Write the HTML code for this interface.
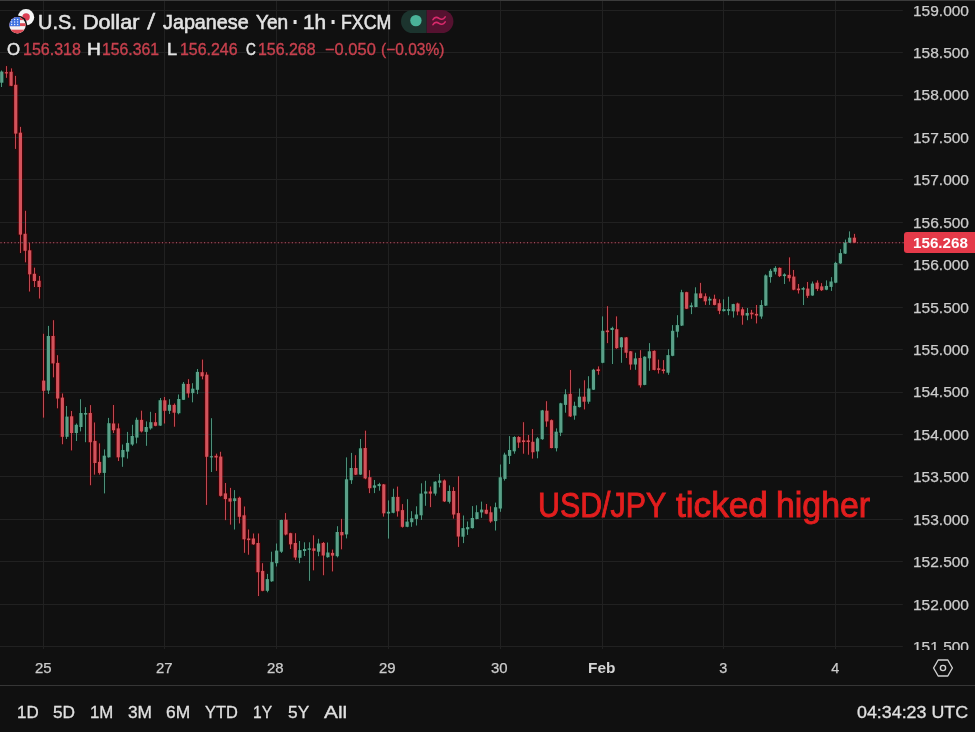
<!DOCTYPE html>
<html lang="en"><head><meta charset="utf-8"><title>USD/JPY chart</title>
<style>
html,body{margin:0;padding:0;background:#101010;}
body{width:975px;height:732px;position:relative;overflow:hidden;font-family:"Liberation Sans",sans-serif;color:#d6d6d6;}
#chart{position:absolute;left:0;top:0;}
.topline{position:absolute;left:0;top:0;width:975px;height:1px;background:#3c3c3c;}
.w{position:absolute;white-space:nowrap;line-height:40px;transform-origin:0 50%;}
#paxis{position:absolute;left:0;top:0;width:975px;height:649.5px;overflow:hidden;}
.tag{position:absolute;left:903.5px;top:231.7px;width:72px;height:21.6px;background:#e43a49;border-radius:3px 0 0 3px;}
.sep{position:absolute;left:0;top:685.3px;width:975px;height:1.2px;background:#363636;}
</style></head><body>
<svg id="chart" width="975" height="732" viewBox="0 0 975 732">
<rect x="0" y="70.0" width="3" height="17.5" fill="#021b12" opacity="0.6"/>
<rect x="-1.23" y="70.8" width="6.0" height="12.7" fill="#021b12"/>
<rect x="5" y="65.6" width="3" height="12.7" fill="#3a0004" opacity="0.6"/>
<rect x="3.43" y="71.4" width="6.0" height="2.8" fill="#3a0004"/>
<rect x="10" y="67.9" width="3" height="18.7" fill="#3a0004" opacity="0.6"/>
<rect x="8.09" y="71.0" width="6.0" height="15.6" fill="#3a0004"/>
<rect x="14" y="75.4" width="3" height="74.0" fill="#3a0004" opacity="0.6"/>
<rect x="12.75" y="84.0" width="6.0" height="50.4" fill="#3a0004"/>
<rect x="19" y="126.4" width="3" height="127.1" fill="#3a0004" opacity="0.6"/>
<rect x="17.41" y="131.9" width="6.0" height="103.5" fill="#3a0004"/>
<rect x="24" y="210.3" width="3" height="52.5" fill="#3a0004" opacity="0.6"/>
<rect x="22.06" y="233.0" width="6.0" height="18.6" fill="#3a0004"/>
<rect x="28" y="242.5" width="3" height="49.5" fill="#3a0004" opacity="0.6"/>
<rect x="26.72" y="249.5" width="6.0" height="25.6" fill="#3a0004"/>
<rect x="33" y="267.2" width="3" height="20.3" fill="#3a0004" opacity="0.6"/>
<rect x="31.38" y="273.0" width="6.0" height="8.8" fill="#3a0004"/>
<rect x="38" y="275.5" width="3" height="23.5" fill="#3a0004" opacity="0.6"/>
<rect x="36.04" y="280.0" width="6.0" height="7.8" fill="#3a0004"/>
<rect x="42" y="333.3" width="3" height="84.8" fill="#3a0004" opacity="0.6"/>
<rect x="40.70" y="379.8" width="6.0" height="11.8" fill="#3a0004"/>
<rect x="47" y="325.4" width="3" height="69.1" fill="#021b12" opacity="0.6"/>
<rect x="45.36" y="335.2" width="6.0" height="56.1" fill="#021b12"/>
<rect x="52" y="319.7" width="3" height="58.1" fill="#3a0004" opacity="0.6"/>
<rect x="50.02" y="335.2" width="6.0" height="29.0" fill="#3a0004"/>
<rect x="56" y="354.7" width="3" height="54.1" fill="#3a0004" opacity="0.6"/>
<rect x="54.68" y="362.1" width="6.0" height="37.2" fill="#3a0004"/>
<rect x="61" y="393.0" width="3" height="51.7" fill="#3a0004" opacity="0.6"/>
<rect x="59.34" y="396.8" width="6.0" height="40.8" fill="#3a0004"/>
<rect x="65" y="405.5" width="3" height="34.0" fill="#021b12" opacity="0.6"/>
<rect x="64.00" y="415.8" width="6.0" height="21.8" fill="#021b12"/>
<rect x="70" y="410.5" width="3" height="40.4" fill="#3a0004" opacity="0.6"/>
<rect x="68.65" y="415.5" width="6.0" height="18.3" fill="#3a0004"/>
<rect x="75" y="423.0" width="3" height="18.5" fill="#021b12" opacity="0.6"/>
<rect x="73.31" y="424.0" width="6.0" height="9.8" fill="#021b12"/>
<rect x="79" y="398.7" width="3" height="33.2" fill="#021b12" opacity="0.6"/>
<rect x="77.97" y="412.2" width="6.0" height="15.6" fill="#021b12"/>
<rect x="84" y="406.7" width="3" height="36.0" fill="#021b12" opacity="0.6"/>
<rect x="82.63" y="412.2" width="6.0" height="3.2" fill="#021b12"/>
<rect x="89" y="404.6" width="3" height="81.1" fill="#3a0004" opacity="0.6"/>
<rect x="87.29" y="412.2" width="6.0" height="30.8" fill="#3a0004"/>
<rect x="93" y="422.0" width="3" height="53.1" fill="#3a0004" opacity="0.6"/>
<rect x="91.95" y="440.1" width="6.0" height="23.7" fill="#3a0004"/>
<rect x="98" y="442.9" width="3" height="32.2" fill="#3a0004" opacity="0.6"/>
<rect x="96.61" y="461.1" width="6.0" height="12.6" fill="#3a0004"/>
<rect x="103" y="448.9" width="3" height="45.0" fill="#021b12" opacity="0.6"/>
<rect x="101.27" y="454.9" width="6.0" height="18.8" fill="#021b12"/>
<rect x="107" y="417.4" width="3" height="40.7" fill="#021b12" opacity="0.6"/>
<rect x="105.93" y="422.4" width="6.0" height="35.7" fill="#021b12"/>
<rect x="112" y="404.5" width="3" height="29.0" fill="#3a0004" opacity="0.6"/>
<rect x="110.58" y="422.7" width="6.0" height="8.3" fill="#3a0004"/>
<rect x="117" y="423.0" width="3" height="38.5" fill="#3a0004" opacity="0.6"/>
<rect x="115.24" y="427.6" width="6.0" height="30.5" fill="#3a0004"/>
<rect x="121" y="444.0" width="3" height="23.3" fill="#021b12" opacity="0.6"/>
<rect x="119.90" y="449.2" width="6.0" height="8.9" fill="#021b12"/>
<rect x="126" y="431.4" width="3" height="27.7" fill="#021b12" opacity="0.6"/>
<rect x="124.56" y="442.1" width="6.0" height="10.3" fill="#021b12"/>
<rect x="131" y="424.3" width="3" height="22.0" fill="#021b12" opacity="0.6"/>
<rect x="129.22" y="435.2" width="6.0" height="10.1" fill="#021b12"/>
<rect x="135" y="417.1" width="3" height="26.8" fill="#021b12" opacity="0.6"/>
<rect x="133.88" y="419.0" width="6.0" height="19.4" fill="#021b12"/>
<rect x="140" y="410.2" width="3" height="22.7" fill="#3a0004" opacity="0.6"/>
<rect x="138.54" y="419.1" width="6.0" height="13.1" fill="#3a0004"/>
<rect x="145" y="420.9" width="3" height="25.4" fill="#021b12" opacity="0.6"/>
<rect x="143.20" y="426.2" width="6.0" height="6.5" fill="#021b12"/>
<rect x="149" y="411.3" width="3" height="18.9" fill="#021b12" opacity="0.6"/>
<rect x="147.86" y="421.4" width="6.0" height="7.8" fill="#021b12"/>
<rect x="154" y="412.5" width="3" height="14.2" fill="#3a0004" opacity="0.6"/>
<rect x="152.52" y="421.4" width="6.0" height="5.2" fill="#3a0004"/>
<rect x="159" y="397.5" width="3" height="28.9" fill="#021b12" opacity="0.6"/>
<rect x="157.18" y="399.4" width="6.0" height="27.0" fill="#021b12"/>
<rect x="163" y="396.5" width="3" height="27.5" fill="#3a0004" opacity="0.6"/>
<rect x="161.83" y="399.5" width="6.0" height="12.1" fill="#3a0004"/>
<rect x="168" y="398.7" width="3" height="15.8" fill="#021b12" opacity="0.6"/>
<rect x="166.49" y="404.0" width="6.0" height="7.6" fill="#021b12"/>
<rect x="173" y="403.0" width="3" height="24.2" fill="#3a0004" opacity="0.6"/>
<rect x="171.15" y="404.1" width="6.0" height="9.4" fill="#3a0004"/>
<rect x="177" y="394.0" width="3" height="20.8" fill="#021b12" opacity="0.6"/>
<rect x="175.81" y="398.2" width="6.0" height="15.8" fill="#021b12"/>
<rect x="182" y="381.5" width="3" height="19.0" fill="#021b12" opacity="0.6"/>
<rect x="180.47" y="383.0" width="6.0" height="17.6" fill="#021b12"/>
<rect x="187" y="378.7" width="3" height="19.4" fill="#3a0004" opacity="0.6"/>
<rect x="185.13" y="383.2" width="6.0" height="11.0" fill="#3a0004"/>
<rect x="191" y="382.7" width="3" height="20.1" fill="#021b12" opacity="0.6"/>
<rect x="189.79" y="387.9" width="6.0" height="6.0" fill="#021b12"/>
<rect x="196" y="368.5" width="3" height="26.1" fill="#021b12" opacity="0.6"/>
<rect x="194.45" y="371.1" width="6.0" height="19.5" fill="#021b12"/>
<rect x="201" y="359.1" width="3" height="20.7" fill="#3a0004" opacity="0.6"/>
<rect x="199.11" y="371.4" width="6.0" height="5.7" fill="#3a0004"/>
<rect x="205" y="371.7" width="3" height="133.7" fill="#3a0004" opacity="0.6"/>
<rect x="203.76" y="373.9" width="6.0" height="83.7" fill="#3a0004"/>
<rect x="210" y="417.7" width="3" height="54.8" fill="#021b12" opacity="0.6"/>
<rect x="208.42" y="455.4" width="6.0" height="2.8" fill="#021b12"/>
<rect x="215" y="453.2" width="3" height="18.2" fill="#3a0004" opacity="0.6"/>
<rect x="213.08" y="455.0" width="6.0" height="3.3" fill="#3a0004"/>
<rect x="219" y="451.3" width="3" height="45.7" fill="#3a0004" opacity="0.6"/>
<rect x="217.74" y="455.8" width="6.0" height="40.8" fill="#3a0004"/>
<rect x="224" y="482.5" width="3" height="38.1" fill="#3a0004" opacity="0.6"/>
<rect x="222.40" y="492.6" width="6.0" height="7.3" fill="#3a0004"/>
<rect x="229" y="487.4" width="3" height="37.7" fill="#3a0004" opacity="0.6"/>
<rect x="227.06" y="497.5" width="6.0" height="4.9" fill="#3a0004"/>
<rect x="233" y="489.6" width="3" height="40.4" fill="#021b12" opacity="0.6"/>
<rect x="231.72" y="497.5" width="6.0" height="4.4" fill="#021b12"/>
<rect x="238" y="496.2" width="3" height="27.7" fill="#3a0004" opacity="0.6"/>
<rect x="236.38" y="497.0" width="6.0" height="20.6" fill="#3a0004"/>
<rect x="243" y="506.0" width="3" height="47.3" fill="#3a0004" opacity="0.6"/>
<rect x="241.04" y="514.5" width="6.0" height="25.6" fill="#3a0004"/>
<rect x="247" y="529.0" width="3" height="26.2" fill="#3a0004" opacity="0.6"/>
<rect x="245.70" y="537.7" width="6.0" height="3.2" fill="#3a0004"/>
<rect x="252" y="533.0" width="3" height="12.3" fill="#3a0004" opacity="0.6"/>
<rect x="250.36" y="537.7" width="6.0" height="7.4" fill="#3a0004"/>
<rect x="257" y="533.0" width="3" height="63.5" fill="#3a0004" opacity="0.6"/>
<rect x="255.01" y="542.2" width="6.0" height="30.8" fill="#3a0004"/>
<rect x="261" y="562.7" width="3" height="29.0" fill="#3a0004" opacity="0.6"/>
<rect x="259.67" y="570.1" width="6.0" height="21.5" fill="#3a0004"/>
<rect x="266" y="573.4" width="3" height="19.4" fill="#021b12" opacity="0.6"/>
<rect x="264.33" y="578.3" width="6.0" height="13.3" fill="#021b12"/>
<rect x="270" y="551.2" width="3" height="31.1" fill="#021b12" opacity="0.6"/>
<rect x="268.99" y="561.3" width="6.0" height="20.8" fill="#021b12"/>
<rect x="275" y="543.0" width="3" height="24.0" fill="#021b12" opacity="0.6"/>
<rect x="273.65" y="549.8" width="6.0" height="14.2" fill="#021b12"/>
<rect x="280" y="519.2" width="3" height="34.2" fill="#021b12" opacity="0.6"/>
<rect x="278.31" y="519.2" width="6.0" height="33.3" fill="#021b12"/>
<rect x="284" y="512.6" width="3" height="23.2" fill="#3a0004" opacity="0.6"/>
<rect x="282.97" y="518.9" width="6.0" height="16.4" fill="#3a0004"/>
<rect x="289" y="532.3" width="3" height="17.2" fill="#3a0004" opacity="0.6"/>
<rect x="287.63" y="532.4" width="6.0" height="12.7" fill="#3a0004"/>
<rect x="294" y="532.7" width="3" height="27.7" fill="#3a0004" opacity="0.6"/>
<rect x="292.29" y="542.2" width="6.0" height="16.1" fill="#3a0004"/>
<rect x="298" y="540.5" width="3" height="23.2" fill="#021b12" opacity="0.6"/>
<rect x="296.94" y="549.3" width="6.0" height="9.3" fill="#021b12"/>
<rect x="303" y="541.8" width="3" height="14.7" fill="#021b12" opacity="0.6"/>
<rect x="301.60" y="548.2" width="6.0" height="3.6" fill="#021b12"/>
<rect x="308" y="541.8" width="3" height="39.5" fill="#021b12" opacity="0.6"/>
<rect x="306.26" y="547.6" width="6.0" height="3.0" fill="#021b12"/>
<rect x="312" y="534.8" width="3" height="36.0" fill="#3a0004" opacity="0.6"/>
<rect x="310.92" y="547.6" width="6.0" height="4.0" fill="#3a0004"/>
<rect x="317" y="538.3" width="3" height="18.4" fill="#021b12" opacity="0.6"/>
<rect x="315.58" y="542.7" width="6.0" height="9.8" fill="#021b12"/>
<rect x="322" y="541.5" width="3" height="34.2" fill="#3a0004" opacity="0.6"/>
<rect x="320.24" y="542.2" width="6.0" height="14.1" fill="#3a0004"/>
<rect x="326" y="542.0" width="3" height="16.2" fill="#021b12" opacity="0.6"/>
<rect x="324.90" y="551.7" width="6.0" height="6.3" fill="#021b12"/>
<rect x="331" y="549.1" width="3" height="22.8" fill="#3a0004" opacity="0.6"/>
<rect x="329.56" y="552.1" width="6.0" height="4.3" fill="#3a0004"/>
<rect x="336" y="525.7" width="3" height="32.2" fill="#021b12" opacity="0.6"/>
<rect x="334.22" y="531.2" width="6.0" height="25.8" fill="#021b12"/>
<rect x="340" y="518.4" width="3" height="31.4" fill="#3a0004" opacity="0.6"/>
<rect x="338.88" y="531.2" width="6.0" height="4.9" fill="#3a0004"/>
<rect x="345" y="456.9" width="3" height="82.0" fill="#021b12" opacity="0.6"/>
<rect x="343.53" y="478.5" width="6.0" height="56.7" fill="#021b12"/>
<rect x="350" y="452.4" width="3" height="32.0" fill="#021b12" opacity="0.6"/>
<rect x="348.19" y="467.2" width="6.0" height="13.8" fill="#021b12"/>
<rect x="354" y="454.7" width="3" height="20.8" fill="#3a0004" opacity="0.6"/>
<rect x="352.85" y="467.2" width="6.0" height="8.3" fill="#3a0004"/>
<rect x="359" y="438.5" width="3" height="37.0" fill="#021b12" opacity="0.6"/>
<rect x="357.51" y="447.5" width="6.0" height="27.9" fill="#021b12"/>
<rect x="364" y="430.2" width="3" height="49.5" fill="#3a0004" opacity="0.6"/>
<rect x="362.17" y="447.2" width="6.0" height="32.0" fill="#3a0004"/>
<rect x="368" y="469.7" width="3" height="23.9" fill="#3a0004" opacity="0.6"/>
<rect x="366.83" y="476.4" width="6.0" height="12.6" fill="#3a0004"/>
<rect x="373" y="479.5" width="3" height="14.1" fill="#021b12" opacity="0.6"/>
<rect x="371.49" y="484.6" width="6.0" height="3.9" fill="#021b12"/>
<rect x="378" y="482.3" width="3" height="8.9" fill="#021b12" opacity="0.6"/>
<rect x="376.15" y="483.3" width="6.0" height="3.6" fill="#021b12"/>
<rect x="382" y="483.5" width="3" height="33.6" fill="#3a0004" opacity="0.6"/>
<rect x="380.81" y="483.6" width="6.0" height="30.5" fill="#3a0004"/>
<rect x="387" y="499.9" width="3" height="39.2" fill="#021b12" opacity="0.6"/>
<rect x="385.47" y="511.0" width="6.0" height="3.3" fill="#021b12"/>
<rect x="392" y="488.2" width="3" height="25.6" fill="#021b12" opacity="0.6"/>
<rect x="390.12" y="496.1" width="6.0" height="17.5" fill="#021b12"/>
<rect x="396" y="486.1" width="3" height="31.0" fill="#3a0004" opacity="0.6"/>
<rect x="394.78" y="496.1" width="6.0" height="16.0" fill="#3a0004"/>
<rect x="401" y="503.6" width="3" height="24.5" fill="#3a0004" opacity="0.6"/>
<rect x="399.44" y="509.3" width="6.0" height="18.3" fill="#3a0004"/>
<rect x="406" y="498.7" width="3" height="29.0" fill="#021b12" opacity="0.6"/>
<rect x="404.10" y="520.8" width="6.0" height="6.8" fill="#021b12"/>
<rect x="410" y="510.7" width="3" height="16.6" fill="#021b12" opacity="0.6"/>
<rect x="408.76" y="517.5" width="6.0" height="5.5" fill="#021b12"/>
<rect x="415" y="505.8" width="3" height="20.2" fill="#021b12" opacity="0.6"/>
<rect x="413.42" y="513.7" width="6.0" height="6.0" fill="#021b12"/>
<rect x="420" y="482.8" width="3" height="37.6" fill="#021b12" opacity="0.6"/>
<rect x="418.08" y="492.8" width="6.0" height="23.3" fill="#021b12"/>
<rect x="424" y="480.3" width="3" height="26.0" fill="#021b12" opacity="0.6"/>
<rect x="422.74" y="490.7" width="6.0" height="3.7" fill="#021b12"/>
<rect x="429" y="486.1" width="3" height="21.5" fill="#3a0004" opacity="0.6"/>
<rect x="427.40" y="490.7" width="6.0" height="3.7" fill="#3a0004"/>
<rect x="434" y="480.8" width="3" height="15.3" fill="#021b12" opacity="0.6"/>
<rect x="432.06" y="480.9" width="6.0" height="13.5" fill="#021b12"/>
<rect x="438" y="473.4" width="3" height="14.5" fill="#021b12" opacity="0.6"/>
<rect x="436.71" y="479.7" width="6.0" height="3.9" fill="#021b12"/>
<rect x="443" y="479.0" width="3" height="23.5" fill="#3a0004" opacity="0.6"/>
<rect x="441.37" y="479.7" width="6.0" height="22.5" fill="#3a0004"/>
<rect x="448" y="484.9" width="3" height="19.1" fill="#021b12" opacity="0.6"/>
<rect x="446.03" y="490.2" width="6.0" height="12.4" fill="#021b12"/>
<rect x="452" y="486.6" width="3" height="32.5" fill="#3a0004" opacity="0.6"/>
<rect x="450.69" y="490.2" width="6.0" height="25.1" fill="#3a0004"/>
<rect x="457" y="475.7" width="3" height="71.7" fill="#3a0004" opacity="0.6"/>
<rect x="455.35" y="512.3" width="6.0" height="25.0" fill="#3a0004"/>
<rect x="462" y="515.0" width="3" height="28.6" fill="#021b12" opacity="0.6"/>
<rect x="460.01" y="527.3" width="6.0" height="10.2" fill="#021b12"/>
<rect x="466" y="521.0" width="3" height="14.4" fill="#021b12" opacity="0.6"/>
<rect x="464.67" y="526.3" width="6.0" height="3.8" fill="#021b12"/>
<rect x="471" y="505.6" width="3" height="23.4" fill="#021b12" opacity="0.6"/>
<rect x="469.33" y="517.2" width="6.0" height="11.7" fill="#021b12"/>
<rect x="475" y="504.8" width="3" height="15.0" fill="#021b12" opacity="0.6"/>
<rect x="473.99" y="511.4" width="6.0" height="8.4" fill="#021b12"/>
<rect x="480" y="501.1" width="3" height="17.2" fill="#021b12" opacity="0.6"/>
<rect x="478.65" y="508.8" width="6.0" height="4.4" fill="#021b12"/>
<rect x="485" y="503.5" width="3" height="11.2" fill="#3a0004" opacity="0.6"/>
<rect x="483.30" y="509.0" width="6.0" height="5.5" fill="#3a0004"/>
<rect x="489" y="505.9" width="3" height="17.4" fill="#3a0004" opacity="0.6"/>
<rect x="487.96" y="511.5" width="6.0" height="10.8" fill="#3a0004"/>
<rect x="494" y="502.1" width="3" height="28.9" fill="#021b12" opacity="0.6"/>
<rect x="492.62" y="506.4" width="6.0" height="15.5" fill="#021b12"/>
<rect x="499" y="464.0" width="3" height="48.3" fill="#021b12" opacity="0.6"/>
<rect x="497.28" y="476.5" width="6.0" height="32.8" fill="#021b12"/>
<rect x="503" y="452.2" width="3" height="28.9" fill="#021b12" opacity="0.6"/>
<rect x="501.94" y="453.8" width="6.0" height="25.9" fill="#021b12"/>
<rect x="508" y="435.6" width="3" height="28.9" fill="#021b12" opacity="0.6"/>
<rect x="506.60" y="449.2" width="6.0" height="7.5" fill="#021b12"/>
<rect x="513" y="435.7" width="3" height="18.5" fill="#021b12" opacity="0.6"/>
<rect x="511.26" y="436.2" width="6.0" height="15.9" fill="#021b12"/>
<rect x="517" y="435.7" width="3" height="12.7" fill="#3a0004" opacity="0.6"/>
<rect x="515.92" y="436.2" width="6.0" height="7.1" fill="#3a0004"/>
<rect x="522" y="421.7" width="3" height="32.5" fill="#3a0004" opacity="0.6"/>
<rect x="520.58" y="439.6" width="6.0" height="3.2" fill="#3a0004"/>
<rect x="527" y="434.5" width="3" height="20.7" fill="#3a0004" opacity="0.6"/>
<rect x="525.24" y="439.6" width="6.0" height="3.2" fill="#3a0004"/>
<rect x="531" y="428.6" width="3" height="30.5" fill="#3a0004" opacity="0.6"/>
<rect x="529.89" y="441.0" width="6.0" height="12.0" fill="#3a0004"/>
<rect x="536" y="436.5" width="3" height="22.3" fill="#021b12" opacity="0.6"/>
<rect x="534.55" y="437.6" width="6.0" height="14.6" fill="#021b12"/>
<rect x="541" y="409.4" width="3" height="30.9" fill="#021b12" opacity="0.6"/>
<rect x="539.21" y="409.6" width="6.0" height="30.4" fill="#021b12"/>
<rect x="545" y="400.7" width="3" height="26.6" fill="#3a0004" opacity="0.6"/>
<rect x="543.87" y="409.9" width="6.0" height="12.3" fill="#3a0004"/>
<rect x="550" y="419.0" width="3" height="29.8" fill="#3a0004" opacity="0.6"/>
<rect x="548.53" y="419.4" width="6.0" height="29.4" fill="#3a0004"/>
<rect x="555" y="427.9" width="3" height="24.0" fill="#021b12" opacity="0.6"/>
<rect x="553.19" y="430.9" width="6.0" height="18.1" fill="#021b12"/>
<rect x="559" y="402.3" width="3" height="34.3" fill="#021b12" opacity="0.6"/>
<rect x="557.85" y="402.5" width="6.0" height="31.0" fill="#021b12"/>
<rect x="564" y="388.8" width="3" height="24.4" fill="#021b12" opacity="0.6"/>
<rect x="562.51" y="393.5" width="6.0" height="12.2" fill="#021b12"/>
<rect x="569" y="369.5" width="3" height="48.0" fill="#3a0004" opacity="0.6"/>
<rect x="567.17" y="393.1" width="6.0" height="24.1" fill="#3a0004"/>
<rect x="573" y="401.2" width="3" height="19.0" fill="#021b12" opacity="0.6"/>
<rect x="571.83" y="405.0" width="6.0" height="11.4" fill="#021b12"/>
<rect x="578" y="388.0" width="3" height="20.0" fill="#021b12" opacity="0.6"/>
<rect x="576.49" y="395.9" width="6.0" height="12.0" fill="#021b12"/>
<rect x="583" y="379.8" width="3" height="30.1" fill="#3a0004" opacity="0.6"/>
<rect x="581.14" y="395.9" width="6.0" height="6.6" fill="#3a0004"/>
<rect x="587" y="375.7" width="3" height="28.6" fill="#021b12" opacity="0.6"/>
<rect x="585.80" y="387.7" width="6.0" height="14.8" fill="#021b12"/>
<rect x="592" y="368.3" width="3" height="22.2" fill="#021b12" opacity="0.6"/>
<rect x="590.46" y="368.9" width="6.0" height="21.6" fill="#021b12"/>
<rect x="597" y="365.9" width="3" height="9.3" fill="#3a0004" opacity="0.6"/>
<rect x="595.12" y="368.5" width="6.0" height="3.3" fill="#3a0004"/>
<rect x="601" y="315.9" width="3" height="47.8" fill="#021b12" opacity="0.6"/>
<rect x="599.78" y="330.0" width="6.0" height="33.6" fill="#021b12"/>
<rect x="606" y="305.7" width="3" height="37.9" fill="#3a0004" opacity="0.6"/>
<rect x="604.44" y="329.7" width="6.0" height="3.2" fill="#3a0004"/>
<rect x="611" y="326.2" width="3" height="38.3" fill="#021b12" opacity="0.6"/>
<rect x="609.10" y="327.1" width="6.0" height="3.7" fill="#021b12"/>
<rect x="615" y="315.9" width="3" height="33.4" fill="#3a0004" opacity="0.6"/>
<rect x="613.76" y="328.4" width="6.0" height="20.5" fill="#3a0004"/>
<rect x="620" y="336.5" width="3" height="26.8" fill="#021b12" opacity="0.6"/>
<rect x="618.42" y="336.6" width="6.0" height="11.5" fill="#021b12"/>
<rect x="625" y="336.5" width="3" height="22.0" fill="#3a0004" opacity="0.6"/>
<rect x="623.08" y="336.6" width="6.0" height="16.9" fill="#3a0004"/>
<rect x="629" y="350.5" width="3" height="19.8" fill="#3a0004" opacity="0.6"/>
<rect x="627.73" y="350.5" width="6.0" height="14.8" fill="#3a0004"/>
<rect x="634" y="352.2" width="3" height="18.1" fill="#021b12" opacity="0.6"/>
<rect x="632.39" y="357.6" width="6.0" height="7.7" fill="#021b12"/>
<rect x="639" y="349.7" width="3" height="38.3" fill="#3a0004" opacity="0.6"/>
<rect x="637.05" y="357.2" width="6.0" height="28.9" fill="#3a0004"/>
<rect x="643" y="355.8" width="3" height="29.9" fill="#021b12" opacity="0.6"/>
<rect x="641.71" y="355.9" width="6.0" height="29.8" fill="#021b12"/>
<rect x="648" y="342.6" width="3" height="28.7" fill="#021b12" opacity="0.6"/>
<rect x="646.37" y="350.5" width="6.0" height="8.6" fill="#021b12"/>
<rect x="653" y="349.9" width="3" height="20.9" fill="#3a0004" opacity="0.6"/>
<rect x="651.03" y="350.1" width="6.0" height="20.6" fill="#3a0004"/>
<rect x="657" y="359.1" width="3" height="14.9" fill="#3a0004" opacity="0.6"/>
<rect x="655.69" y="367.5" width="6.0" height="3.2" fill="#3a0004"/>
<rect x="662" y="359.6" width="3" height="14.4" fill="#3a0004" opacity="0.6"/>
<rect x="660.35" y="368.6" width="6.0" height="3.2" fill="#3a0004"/>
<rect x="667" y="348.7" width="3" height="26.6" fill="#021b12" opacity="0.6"/>
<rect x="665.01" y="354.3" width="6.0" height="19.2" fill="#021b12"/>
<rect x="671" y="324.6" width="3" height="32.1" fill="#021b12" opacity="0.6"/>
<rect x="669.66" y="330.0" width="6.0" height="26.6" fill="#021b12"/>
<rect x="676" y="314.7" width="3" height="23.2" fill="#021b12" opacity="0.6"/>
<rect x="674.32" y="324.3" width="6.0" height="8.2" fill="#021b12"/>
<rect x="680" y="289.3" width="3" height="37.2" fill="#021b12" opacity="0.6"/>
<rect x="678.98" y="291.4" width="6.0" height="35.0" fill="#021b12"/>
<rect x="685" y="291.3" width="3" height="18.2" fill="#3a0004" opacity="0.6"/>
<rect x="683.64" y="291.4" width="6.0" height="18.1" fill="#3a0004"/>
<rect x="690" y="302.1" width="3" height="12.5" fill="#021b12" opacity="0.6"/>
<rect x="688.30" y="304.6" width="6.0" height="3.2" fill="#021b12"/>
<rect x="694" y="286.8" width="3" height="21.0" fill="#021b12" opacity="0.6"/>
<rect x="692.96" y="292.6" width="6.0" height="15.2" fill="#021b12"/>
<rect x="699" y="282.4" width="3" height="16.4" fill="#3a0004" opacity="0.6"/>
<rect x="697.62" y="292.6" width="6.0" height="6.2" fill="#3a0004"/>
<rect x="704" y="292.9" width="3" height="12.5" fill="#3a0004" opacity="0.6"/>
<rect x="702.28" y="295.5" width="6.0" height="6.6" fill="#3a0004"/>
<rect x="708" y="296.2" width="3" height="9.2" fill="#021b12" opacity="0.6"/>
<rect x="706.94" y="298.0" width="6.0" height="3.3" fill="#021b12"/>
<rect x="713" y="294.2" width="3" height="11.6" fill="#3a0004" opacity="0.6"/>
<rect x="711.60" y="298.0" width="6.0" height="7.7" fill="#3a0004"/>
<rect x="718" y="298.8" width="3" height="15.8" fill="#3a0004" opacity="0.6"/>
<rect x="716.25" y="302.4" width="6.0" height="9.2" fill="#3a0004"/>
<rect x="722" y="298.8" width="3" height="13.2" fill="#021b12" opacity="0.6"/>
<rect x="720.91" y="308.4" width="6.0" height="3.5" fill="#021b12"/>
<rect x="727" y="296.2" width="3" height="19.5" fill="#021b12" opacity="0.6"/>
<rect x="725.57" y="308.4" width="6.0" height="3.2" fill="#021b12"/>
<rect x="732" y="303.3" width="3" height="14.8" fill="#021b12" opacity="0.6"/>
<rect x="730.23" y="303.3" width="6.0" height="8.8" fill="#021b12"/>
<rect x="736" y="302.2" width="3" height="13.5" fill="#3a0004" opacity="0.6"/>
<rect x="734.89" y="302.7" width="6.0" height="9.6" fill="#3a0004"/>
<rect x="741" y="306.7" width="3" height="18.5" fill="#3a0004" opacity="0.6"/>
<rect x="739.55" y="308.5" width="6.0" height="7.7" fill="#3a0004"/>
<rect x="746" y="307.5" width="3" height="13.2" fill="#021b12" opacity="0.6"/>
<rect x="744.21" y="312.2" width="6.0" height="4.2" fill="#021b12"/>
<rect x="750" y="309.4" width="3" height="9.9" fill="#3a0004" opacity="0.6"/>
<rect x="748.87" y="311.9" width="6.0" height="3.2" fill="#3a0004"/>
<rect x="755" y="304.5" width="3" height="19.4" fill="#3a0004" opacity="0.6"/>
<rect x="753.53" y="313.1" width="6.0" height="3.2" fill="#3a0004"/>
<rect x="760" y="299.6" width="3" height="19.7" fill="#021b12" opacity="0.6"/>
<rect x="758.19" y="304.2" width="6.0" height="13.1" fill="#021b12"/>
<rect x="764" y="273.9" width="3" height="32.6" fill="#021b12" opacity="0.6"/>
<rect x="762.85" y="274.6" width="6.0" height="31.8" fill="#021b12"/>
<rect x="769" y="268.4" width="3" height="14.8" fill="#021b12" opacity="0.6"/>
<rect x="767.50" y="270.0" width="6.0" height="7.9" fill="#021b12"/>
<rect x="774" y="265.7" width="3" height="9.2" fill="#021b12" opacity="0.6"/>
<rect x="772.16" y="267.1" width="6.0" height="5.4" fill="#021b12"/>
<rect x="778" y="267.0" width="3" height="10.5" fill="#3a0004" opacity="0.6"/>
<rect x="776.82" y="267.1" width="6.0" height="9.8" fill="#3a0004"/>
<rect x="783" y="272.8" width="3" height="11.7" fill="#021b12" opacity="0.6"/>
<rect x="781.48" y="273.6" width="6.0" height="3.3" fill="#021b12"/>
<rect x="788" y="256.9" width="3" height="25.1" fill="#3a0004" opacity="0.6"/>
<rect x="786.14" y="274.1" width="6.0" height="4.9" fill="#3a0004"/>
<rect x="792" y="269.5" width="3" height="21.2" fill="#3a0004" opacity="0.6"/>
<rect x="790.80" y="275.8" width="6.0" height="14.7" fill="#3a0004"/>
<rect x="797" y="283.5" width="3" height="10.5" fill="#3a0004" opacity="0.6"/>
<rect x="795.46" y="287.8" width="6.0" height="3.2" fill="#3a0004"/>
<rect x="802" y="286.4" width="3" height="19.1" fill="#021b12" opacity="0.6"/>
<rect x="800.12" y="287.3" width="6.0" height="3.2" fill="#021b12"/>
<rect x="806" y="281.5" width="3" height="16.9" fill="#3a0004" opacity="0.6"/>
<rect x="804.78" y="287.8" width="6.0" height="8.8" fill="#3a0004"/>
<rect x="811" y="281.0" width="3" height="15.3" fill="#021b12" opacity="0.6"/>
<rect x="809.44" y="282.8" width="6.0" height="13.5" fill="#021b12"/>
<rect x="816" y="279.9" width="3" height="11.5" fill="#3a0004" opacity="0.6"/>
<rect x="814.09" y="281.9" width="6.0" height="7.8" fill="#3a0004"/>
<rect x="820" y="282.6" width="3" height="8.8" fill="#3a0004" opacity="0.6"/>
<rect x="818.75" y="285.6" width="6.0" height="5.4" fill="#3a0004"/>
<rect x="825" y="279.9" width="3" height="10.8" fill="#021b12" opacity="0.6"/>
<rect x="823.41" y="285.1" width="6.0" height="5.4" fill="#021b12"/>
<rect x="830" y="276.6" width="3" height="14.8" fill="#021b12" opacity="0.6"/>
<rect x="828.07" y="280.7" width="6.0" height="7.0" fill="#021b12"/>
<rect x="834" y="261.3" width="3" height="22.4" fill="#021b12" opacity="0.6"/>
<rect x="832.73" y="262.1" width="6.0" height="21.4" fill="#021b12"/>
<rect x="839" y="248.7" width="3" height="15.7" fill="#021b12" opacity="0.6"/>
<rect x="837.39" y="252.3" width="6.0" height="11.9" fill="#021b12"/>
<rect x="844" y="239.1" width="3" height="15.4" fill="#021b12" opacity="0.6"/>
<rect x="842.05" y="241.8" width="6.0" height="12.6" fill="#021b12"/>
<rect x="848" y="230.9" width="3" height="12.6" fill="#021b12" opacity="0.6"/>
<rect x="846.71" y="236.9" width="6.0" height="6.5" fill="#021b12"/>
<rect x="853" y="233.4" width="3" height="10.1" fill="#3a0004" opacity="0.6"/>
<rect x="851.37" y="236.9" width="6.0" height="6.5" fill="#3a0004"/>
<rect x="0" y="10" width="902.8" height="1" fill="#212121"/>
<rect x="0" y="52" width="902.8" height="1" fill="#212121"/>
<rect x="0" y="95" width="902.8" height="1" fill="#212121"/>
<rect x="0" y="137" width="902.8" height="1" fill="#212121"/>
<rect x="0" y="179" width="902.8" height="1" fill="#212121"/>
<rect x="0" y="222" width="902.8" height="1" fill="#212121"/>
<rect x="0" y="264" width="902.8" height="1" fill="#212121"/>
<rect x="0" y="307" width="902.8" height="1" fill="#212121"/>
<rect x="0" y="349" width="902.8" height="1" fill="#212121"/>
<rect x="0" y="392" width="902.8" height="1" fill="#212121"/>
<rect x="0" y="434" width="902.8" height="1" fill="#212121"/>
<rect x="0" y="476" width="902.8" height="1" fill="#212121"/>
<rect x="0" y="519" width="902.8" height="1" fill="#212121"/>
<rect x="0" y="561" width="902.8" height="1" fill="#212121"/>
<rect x="0" y="604" width="902.8" height="1" fill="#212121"/>
<rect x="0" y="646" width="902.8" height="1" fill="#212121"/>
<rect x="43" y="0" width="1" height="649" fill="#212121"/>
<rect x="164" y="0" width="1" height="649" fill="#212121"/>
<rect x="276" y="0" width="1" height="649" fill="#212121"/>
<rect x="388" y="0" width="1" height="649" fill="#212121"/>
<rect x="500" y="0" width="1" height="649" fill="#212121"/>
<rect x="602" y="0" width="1" height="649" fill="#212121"/>
<rect x="723" y="0" width="1" height="649" fill="#212121"/>
<rect x="835" y="0" width="1" height="649" fill="#212121"/>
<line x1="0" y1="242.7" x2="904" y2="242.7" stroke="#300a11" stroke-width="1.2"/>
<line x1="0.5" y1="242.7" x2="904" y2="242.7" stroke="#b06e78" stroke-width="1.05" stroke-dasharray="1.05 2.46"/>
<rect x="1" y="70.5" width="1" height="16.5" fill="#5aa189" opacity="0.88"/>
<rect x="0.17" y="71.6" width="3.2" height="11.1" fill="#5aa189"/>
<rect x="6" y="66.1" width="1" height="11.7" fill="#d4525b" opacity="0.88"/>
<rect x="4.83" y="72.2" width="3.2" height="1.2" fill="#d4525b"/>
<rect x="11" y="68.4" width="1" height="17.7" fill="#d4525b" opacity="0.88"/>
<rect x="9.49" y="71.8" width="3.2" height="14.0" fill="#d4525b"/>
<rect x="15" y="75.9" width="1" height="73.0" fill="#d4525b" opacity="0.88"/>
<rect x="14.15" y="84.8" width="3.2" height="48.8" fill="#d4525b"/>
<rect x="20" y="126.9" width="1" height="126.1" fill="#d4525b" opacity="0.88"/>
<rect x="18.81" y="132.7" width="3.2" height="101.9" fill="#d4525b"/>
<rect x="25" y="210.8" width="1" height="51.5" fill="#d4525b" opacity="0.88"/>
<rect x="23.46" y="233.8" width="3.2" height="17.0" fill="#d4525b"/>
<rect x="29" y="243.0" width="1" height="48.5" fill="#d4525b" opacity="0.88"/>
<rect x="28.12" y="250.3" width="3.2" height="24.0" fill="#d4525b"/>
<rect x="34" y="267.7" width="1" height="19.3" fill="#d4525b" opacity="0.88"/>
<rect x="32.78" y="273.8" width="3.2" height="7.2" fill="#d4525b"/>
<rect x="39" y="276.0" width="1" height="22.5" fill="#d4525b" opacity="0.88"/>
<rect x="37.44" y="280.8" width="3.2" height="6.2" fill="#d4525b"/>
<rect x="43" y="333.8" width="1" height="83.8" fill="#d4525b" opacity="0.88"/>
<rect x="42.10" y="380.6" width="3.2" height="10.2" fill="#d4525b"/>
<rect x="48" y="325.9" width="1" height="68.1" fill="#5aa189" opacity="0.88"/>
<rect x="46.76" y="336.0" width="3.2" height="54.5" fill="#5aa189"/>
<rect x="53" y="320.2" width="1" height="57.1" fill="#d4525b" opacity="0.88"/>
<rect x="51.42" y="336.0" width="3.2" height="27.4" fill="#d4525b"/>
<rect x="57" y="355.2" width="1" height="53.1" fill="#d4525b" opacity="0.88"/>
<rect x="56.08" y="362.9" width="3.2" height="35.6" fill="#d4525b"/>
<rect x="62" y="393.5" width="1" height="50.7" fill="#d4525b" opacity="0.88"/>
<rect x="60.74" y="397.6" width="3.2" height="39.2" fill="#d4525b"/>
<rect x="66" y="406.0" width="1" height="33.0" fill="#5aa189" opacity="0.88"/>
<rect x="65.40" y="416.6" width="3.2" height="20.2" fill="#5aa189"/>
<rect x="71" y="411.0" width="1" height="39.4" fill="#d4525b" opacity="0.88"/>
<rect x="70.05" y="416.3" width="3.2" height="16.7" fill="#d4525b"/>
<rect x="76" y="423.5" width="1" height="17.5" fill="#5aa189" opacity="0.88"/>
<rect x="74.71" y="424.8" width="3.2" height="8.2" fill="#5aa189"/>
<rect x="80" y="399.2" width="1" height="32.2" fill="#5aa189" opacity="0.88"/>
<rect x="79.37" y="413.0" width="3.2" height="14.0" fill="#5aa189"/>
<rect x="85" y="407.2" width="1" height="35.0" fill="#5aa189" opacity="0.88"/>
<rect x="84.03" y="413.0" width="3.2" height="1.6" fill="#5aa189"/>
<rect x="90" y="405.1" width="1" height="80.1" fill="#d4525b" opacity="0.88"/>
<rect x="88.69" y="413.0" width="3.2" height="29.2" fill="#d4525b"/>
<rect x="94" y="422.5" width="1" height="52.1" fill="#d4525b" opacity="0.88"/>
<rect x="93.35" y="440.9" width="3.2" height="22.1" fill="#d4525b"/>
<rect x="99" y="443.4" width="1" height="31.2" fill="#d4525b" opacity="0.88"/>
<rect x="98.01" y="461.9" width="3.2" height="11.0" fill="#d4525b"/>
<rect x="104" y="449.4" width="1" height="44.0" fill="#5aa189" opacity="0.88"/>
<rect x="102.67" y="455.7" width="3.2" height="17.2" fill="#5aa189"/>
<rect x="108" y="417.9" width="1" height="39.7" fill="#5aa189" opacity="0.88"/>
<rect x="107.33" y="423.2" width="3.2" height="34.1" fill="#5aa189"/>
<rect x="113" y="405.0" width="1" height="28.0" fill="#d4525b" opacity="0.88"/>
<rect x="111.98" y="423.5" width="3.2" height="6.7" fill="#d4525b"/>
<rect x="118" y="423.5" width="1" height="37.5" fill="#d4525b" opacity="0.88"/>
<rect x="116.64" y="428.4" width="3.2" height="28.9" fill="#d4525b"/>
<rect x="122" y="444.5" width="1" height="22.3" fill="#5aa189" opacity="0.88"/>
<rect x="121.30" y="450.0" width="3.2" height="7.3" fill="#5aa189"/>
<rect x="127" y="431.9" width="1" height="26.7" fill="#5aa189" opacity="0.88"/>
<rect x="125.96" y="442.9" width="3.2" height="8.7" fill="#5aa189"/>
<rect x="132" y="424.8" width="1" height="21.0" fill="#5aa189" opacity="0.88"/>
<rect x="130.62" y="436.0" width="3.2" height="8.5" fill="#5aa189"/>
<rect x="136" y="417.6" width="1" height="25.8" fill="#5aa189" opacity="0.88"/>
<rect x="135.28" y="419.8" width="3.2" height="17.8" fill="#5aa189"/>
<rect x="141" y="410.7" width="1" height="21.7" fill="#d4525b" opacity="0.88"/>
<rect x="139.94" y="419.9" width="3.2" height="11.5" fill="#d4525b"/>
<rect x="146" y="421.4" width="1" height="24.4" fill="#5aa189" opacity="0.88"/>
<rect x="144.60" y="427.0" width="3.2" height="4.9" fill="#5aa189"/>
<rect x="150" y="411.8" width="1" height="17.9" fill="#5aa189" opacity="0.88"/>
<rect x="149.26" y="422.2" width="3.2" height="6.2" fill="#5aa189"/>
<rect x="155" y="413.0" width="1" height="13.2" fill="#d4525b" opacity="0.88"/>
<rect x="153.92" y="422.2" width="3.2" height="3.6" fill="#d4525b"/>
<rect x="160" y="398.0" width="1" height="27.9" fill="#5aa189" opacity="0.88"/>
<rect x="158.58" y="400.2" width="3.2" height="25.4" fill="#5aa189"/>
<rect x="164" y="397.0" width="1" height="26.5" fill="#d4525b" opacity="0.88"/>
<rect x="163.23" y="400.3" width="3.2" height="10.5" fill="#d4525b"/>
<rect x="169" y="399.2" width="1" height="14.8" fill="#5aa189" opacity="0.88"/>
<rect x="167.89" y="404.8" width="3.2" height="6.0" fill="#5aa189"/>
<rect x="174" y="403.5" width="1" height="23.2" fill="#d4525b" opacity="0.88"/>
<rect x="172.55" y="404.9" width="3.2" height="7.8" fill="#d4525b"/>
<rect x="178" y="394.5" width="1" height="19.8" fill="#5aa189" opacity="0.88"/>
<rect x="177.21" y="399.0" width="3.2" height="14.2" fill="#5aa189"/>
<rect x="183" y="382.0" width="1" height="18.0" fill="#5aa189" opacity="0.88"/>
<rect x="181.87" y="383.8" width="3.2" height="16.0" fill="#5aa189"/>
<rect x="188" y="379.2" width="1" height="18.4" fill="#d4525b" opacity="0.88"/>
<rect x="186.53" y="384.0" width="3.2" height="9.4" fill="#d4525b"/>
<rect x="192" y="383.2" width="1" height="19.1" fill="#5aa189" opacity="0.88"/>
<rect x="191.19" y="388.7" width="3.2" height="4.4" fill="#5aa189"/>
<rect x="197" y="369.0" width="1" height="25.1" fill="#5aa189" opacity="0.88"/>
<rect x="195.85" y="371.9" width="3.2" height="17.9" fill="#5aa189"/>
<rect x="202" y="359.6" width="1" height="19.7" fill="#d4525b" opacity="0.88"/>
<rect x="200.51" y="372.2" width="3.2" height="4.1" fill="#d4525b"/>
<rect x="206" y="372.2" width="1" height="132.7" fill="#d4525b" opacity="0.88"/>
<rect x="205.16" y="374.7" width="3.2" height="82.1" fill="#d4525b"/>
<rect x="211" y="418.2" width="1" height="53.8" fill="#5aa189" opacity="0.88"/>
<rect x="209.82" y="456.2" width="3.2" height="1.2" fill="#5aa189"/>
<rect x="216" y="453.7" width="1" height="17.2" fill="#d4525b" opacity="0.88"/>
<rect x="214.48" y="455.8" width="3.2" height="1.7" fill="#d4525b"/>
<rect x="220" y="451.8" width="1" height="44.7" fill="#d4525b" opacity="0.88"/>
<rect x="219.14" y="456.6" width="3.2" height="39.2" fill="#d4525b"/>
<rect x="225" y="483.0" width="1" height="37.1" fill="#d4525b" opacity="0.88"/>
<rect x="223.80" y="493.4" width="3.2" height="5.7" fill="#d4525b"/>
<rect x="230" y="487.9" width="1" height="36.7" fill="#d4525b" opacity="0.88"/>
<rect x="228.46" y="498.3" width="3.2" height="3.3" fill="#d4525b"/>
<rect x="234" y="490.1" width="1" height="39.4" fill="#5aa189" opacity="0.88"/>
<rect x="233.12" y="498.3" width="3.2" height="2.8" fill="#5aa189"/>
<rect x="239" y="496.7" width="1" height="26.7" fill="#d4525b" opacity="0.88"/>
<rect x="237.78" y="497.8" width="3.2" height="19.0" fill="#d4525b"/>
<rect x="244" y="506.5" width="1" height="46.3" fill="#d4525b" opacity="0.88"/>
<rect x="242.44" y="515.3" width="3.2" height="24.0" fill="#d4525b"/>
<rect x="248" y="529.5" width="1" height="25.2" fill="#d4525b" opacity="0.88"/>
<rect x="247.10" y="538.5" width="3.2" height="1.6" fill="#d4525b"/>
<rect x="253" y="533.5" width="1" height="11.3" fill="#d4525b" opacity="0.88"/>
<rect x="251.76" y="538.5" width="3.2" height="5.8" fill="#d4525b"/>
<rect x="258" y="533.5" width="1" height="62.5" fill="#d4525b" opacity="0.88"/>
<rect x="256.41" y="543.0" width="3.2" height="29.2" fill="#d4525b"/>
<rect x="262" y="563.2" width="1" height="28.0" fill="#d4525b" opacity="0.88"/>
<rect x="261.07" y="570.9" width="3.2" height="19.9" fill="#d4525b"/>
<rect x="267" y="573.9" width="1" height="18.4" fill="#5aa189" opacity="0.88"/>
<rect x="265.73" y="579.1" width="3.2" height="11.7" fill="#5aa189"/>
<rect x="271" y="551.7" width="1" height="30.1" fill="#5aa189" opacity="0.88"/>
<rect x="270.39" y="562.1" width="3.2" height="19.2" fill="#5aa189"/>
<rect x="276" y="543.5" width="1" height="23.0" fill="#5aa189" opacity="0.88"/>
<rect x="275.05" y="550.6" width="3.2" height="12.6" fill="#5aa189"/>
<rect x="281" y="519.7" width="1" height="33.2" fill="#5aa189" opacity="0.88"/>
<rect x="279.71" y="520.0" width="3.2" height="31.7" fill="#5aa189"/>
<rect x="285" y="513.1" width="1" height="22.2" fill="#d4525b" opacity="0.88"/>
<rect x="284.37" y="519.7" width="3.2" height="14.8" fill="#d4525b"/>
<rect x="290" y="532.8" width="1" height="16.2" fill="#d4525b" opacity="0.88"/>
<rect x="289.03" y="533.2" width="3.2" height="11.1" fill="#d4525b"/>
<rect x="295" y="533.2" width="1" height="26.7" fill="#d4525b" opacity="0.88"/>
<rect x="293.69" y="543.0" width="3.2" height="14.5" fill="#d4525b"/>
<rect x="299" y="541.0" width="1" height="22.2" fill="#5aa189" opacity="0.88"/>
<rect x="298.34" y="550.1" width="3.2" height="7.7" fill="#5aa189"/>
<rect x="304" y="542.3" width="1" height="13.7" fill="#5aa189" opacity="0.88"/>
<rect x="303.00" y="549.0" width="3.2" height="2.0" fill="#5aa189"/>
<rect x="309" y="542.3" width="1" height="38.5" fill="#5aa189" opacity="0.88"/>
<rect x="307.66" y="548.4" width="3.2" height="1.4" fill="#5aa189"/>
<rect x="313" y="535.3" width="1" height="35.0" fill="#d4525b" opacity="0.88"/>
<rect x="312.32" y="548.4" width="3.2" height="2.4" fill="#d4525b"/>
<rect x="318" y="538.8" width="1" height="17.4" fill="#5aa189" opacity="0.88"/>
<rect x="316.98" y="543.5" width="3.2" height="8.2" fill="#5aa189"/>
<rect x="323" y="542.0" width="1" height="33.2" fill="#d4525b" opacity="0.88"/>
<rect x="321.64" y="543.0" width="3.2" height="12.5" fill="#d4525b"/>
<rect x="327" y="542.5" width="1" height="15.2" fill="#5aa189" opacity="0.88"/>
<rect x="326.30" y="552.5" width="3.2" height="4.7" fill="#5aa189"/>
<rect x="332" y="549.6" width="1" height="21.8" fill="#d4525b" opacity="0.88"/>
<rect x="330.96" y="552.9" width="3.2" height="2.7" fill="#d4525b"/>
<rect x="337" y="526.2" width="1" height="31.2" fill="#5aa189" opacity="0.88"/>
<rect x="335.62" y="532.0" width="3.2" height="24.2" fill="#5aa189"/>
<rect x="341" y="518.9" width="1" height="30.4" fill="#d4525b" opacity="0.88"/>
<rect x="340.28" y="532.0" width="3.2" height="3.3" fill="#d4525b"/>
<rect x="346" y="457.4" width="1" height="81.0" fill="#5aa189" opacity="0.88"/>
<rect x="344.93" y="479.3" width="3.2" height="55.1" fill="#5aa189"/>
<rect x="351" y="452.9" width="1" height="31.0" fill="#5aa189" opacity="0.88"/>
<rect x="349.59" y="468.0" width="3.2" height="12.2" fill="#5aa189"/>
<rect x="355" y="455.2" width="1" height="19.8" fill="#d4525b" opacity="0.88"/>
<rect x="354.25" y="468.0" width="3.2" height="6.7" fill="#d4525b"/>
<rect x="360" y="439.0" width="1" height="36.0" fill="#5aa189" opacity="0.88"/>
<rect x="358.91" y="448.3" width="3.2" height="26.3" fill="#5aa189"/>
<rect x="365" y="430.7" width="1" height="48.5" fill="#d4525b" opacity="0.88"/>
<rect x="363.57" y="448.0" width="3.2" height="30.4" fill="#d4525b"/>
<rect x="369" y="470.2" width="1" height="22.9" fill="#d4525b" opacity="0.88"/>
<rect x="368.23" y="477.2" width="3.2" height="11.0" fill="#d4525b"/>
<rect x="374" y="480.0" width="1" height="13.1" fill="#5aa189" opacity="0.88"/>
<rect x="372.89" y="485.4" width="3.2" height="2.3" fill="#5aa189"/>
<rect x="379" y="482.8" width="1" height="7.9" fill="#5aa189" opacity="0.88"/>
<rect x="377.55" y="484.1" width="3.2" height="2.0" fill="#5aa189"/>
<rect x="383" y="484.0" width="1" height="32.6" fill="#d4525b" opacity="0.88"/>
<rect x="382.21" y="484.4" width="3.2" height="28.9" fill="#d4525b"/>
<rect x="388" y="500.4" width="1" height="38.2" fill="#5aa189" opacity="0.88"/>
<rect x="386.87" y="511.8" width="3.2" height="1.7" fill="#5aa189"/>
<rect x="393" y="488.7" width="1" height="24.6" fill="#5aa189" opacity="0.88"/>
<rect x="391.52" y="496.9" width="3.2" height="15.9" fill="#5aa189"/>
<rect x="397" y="486.6" width="1" height="30.0" fill="#d4525b" opacity="0.88"/>
<rect x="396.18" y="496.9" width="3.2" height="14.4" fill="#d4525b"/>
<rect x="402" y="504.1" width="1" height="23.5" fill="#d4525b" opacity="0.88"/>
<rect x="400.84" y="510.1" width="3.2" height="16.7" fill="#d4525b"/>
<rect x="407" y="499.2" width="1" height="28.0" fill="#5aa189" opacity="0.88"/>
<rect x="405.50" y="521.6" width="3.2" height="5.2" fill="#5aa189"/>
<rect x="411" y="511.2" width="1" height="15.6" fill="#5aa189" opacity="0.88"/>
<rect x="410.16" y="518.3" width="3.2" height="3.9" fill="#5aa189"/>
<rect x="416" y="506.3" width="1" height="19.2" fill="#5aa189" opacity="0.88"/>
<rect x="414.82" y="514.5" width="3.2" height="4.4" fill="#5aa189"/>
<rect x="421" y="483.3" width="1" height="36.6" fill="#5aa189" opacity="0.88"/>
<rect x="419.48" y="493.6" width="3.2" height="21.7" fill="#5aa189"/>
<rect x="425" y="480.8" width="1" height="25.0" fill="#5aa189" opacity="0.88"/>
<rect x="424.14" y="491.5" width="3.2" height="2.1" fill="#5aa189"/>
<rect x="430" y="486.6" width="1" height="20.5" fill="#d4525b" opacity="0.88"/>
<rect x="428.80" y="491.5" width="3.2" height="2.1" fill="#d4525b"/>
<rect x="435" y="481.3" width="1" height="14.3" fill="#5aa189" opacity="0.88"/>
<rect x="433.46" y="481.7" width="3.2" height="11.9" fill="#5aa189"/>
<rect x="439" y="473.9" width="1" height="13.5" fill="#5aa189" opacity="0.88"/>
<rect x="438.11" y="480.5" width="3.2" height="2.3" fill="#5aa189"/>
<rect x="444" y="479.5" width="1" height="22.5" fill="#d4525b" opacity="0.88"/>
<rect x="442.77" y="480.5" width="3.2" height="20.9" fill="#d4525b"/>
<rect x="449" y="485.4" width="1" height="18.1" fill="#5aa189" opacity="0.88"/>
<rect x="447.43" y="491.0" width="3.2" height="10.8" fill="#5aa189"/>
<rect x="453" y="487.1" width="1" height="31.5" fill="#d4525b" opacity="0.88"/>
<rect x="452.09" y="491.0" width="3.2" height="23.5" fill="#d4525b"/>
<rect x="458" y="476.2" width="1" height="70.7" fill="#d4525b" opacity="0.88"/>
<rect x="456.75" y="513.1" width="3.2" height="23.4" fill="#d4525b"/>
<rect x="463" y="515.5" width="1" height="27.6" fill="#5aa189" opacity="0.88"/>
<rect x="461.41" y="528.1" width="3.2" height="8.6" fill="#5aa189"/>
<rect x="467" y="521.5" width="1" height="13.4" fill="#5aa189" opacity="0.88"/>
<rect x="466.07" y="527.1" width="3.2" height="2.2" fill="#5aa189"/>
<rect x="472" y="506.1" width="1" height="22.4" fill="#5aa189" opacity="0.88"/>
<rect x="470.73" y="518.0" width="3.2" height="10.1" fill="#5aa189"/>
<rect x="476" y="505.3" width="1" height="14.0" fill="#5aa189" opacity="0.88"/>
<rect x="475.39" y="512.2" width="3.2" height="6.8" fill="#5aa189"/>
<rect x="481" y="501.6" width="1" height="16.2" fill="#5aa189" opacity="0.88"/>
<rect x="480.05" y="509.6" width="3.2" height="2.8" fill="#5aa189"/>
<rect x="486" y="504.0" width="1" height="10.2" fill="#d4525b" opacity="0.88"/>
<rect x="484.70" y="509.8" width="3.2" height="3.9" fill="#d4525b"/>
<rect x="490" y="506.4" width="1" height="16.4" fill="#d4525b" opacity="0.88"/>
<rect x="489.36" y="512.3" width="3.2" height="9.2" fill="#d4525b"/>
<rect x="495" y="502.6" width="1" height="27.9" fill="#5aa189" opacity="0.88"/>
<rect x="494.02" y="507.2" width="3.2" height="13.9" fill="#5aa189"/>
<rect x="500" y="464.5" width="1" height="47.3" fill="#5aa189" opacity="0.88"/>
<rect x="498.68" y="477.3" width="3.2" height="31.2" fill="#5aa189"/>
<rect x="504" y="452.7" width="1" height="27.9" fill="#5aa189" opacity="0.88"/>
<rect x="503.34" y="454.6" width="3.2" height="24.3" fill="#5aa189"/>
<rect x="509" y="436.1" width="1" height="27.9" fill="#5aa189" opacity="0.88"/>
<rect x="508.00" y="450.0" width="3.2" height="5.9" fill="#5aa189"/>
<rect x="514" y="436.2" width="1" height="17.5" fill="#5aa189" opacity="0.88"/>
<rect x="512.66" y="437.0" width="3.2" height="14.3" fill="#5aa189"/>
<rect x="518" y="436.2" width="1" height="11.7" fill="#d4525b" opacity="0.88"/>
<rect x="517.32" y="437.0" width="3.2" height="5.5" fill="#d4525b"/>
<rect x="523" y="422.2" width="1" height="31.5" fill="#d4525b" opacity="0.88"/>
<rect x="521.98" y="440.4" width="3.2" height="1.6" fill="#d4525b"/>
<rect x="528" y="435.0" width="1" height="19.7" fill="#d4525b" opacity="0.88"/>
<rect x="526.64" y="440.4" width="3.2" height="1.6" fill="#d4525b"/>
<rect x="532" y="429.1" width="1" height="29.5" fill="#d4525b" opacity="0.88"/>
<rect x="531.29" y="441.8" width="3.2" height="10.4" fill="#d4525b"/>
<rect x="537" y="437.0" width="1" height="21.3" fill="#5aa189" opacity="0.88"/>
<rect x="535.95" y="438.4" width="3.2" height="13.0" fill="#5aa189"/>
<rect x="542" y="409.9" width="1" height="29.9" fill="#5aa189" opacity="0.88"/>
<rect x="540.61" y="410.4" width="3.2" height="28.8" fill="#5aa189"/>
<rect x="546" y="401.2" width="1" height="25.6" fill="#d4525b" opacity="0.88"/>
<rect x="545.27" y="410.7" width="3.2" height="10.7" fill="#d4525b"/>
<rect x="551" y="419.5" width="1" height="28.8" fill="#d4525b" opacity="0.88"/>
<rect x="549.93" y="420.2" width="3.2" height="27.8" fill="#d4525b"/>
<rect x="556" y="428.4" width="1" height="23.0" fill="#5aa189" opacity="0.88"/>
<rect x="554.59" y="431.7" width="3.2" height="16.5" fill="#5aa189"/>
<rect x="560" y="402.8" width="1" height="33.3" fill="#5aa189" opacity="0.88"/>
<rect x="559.25" y="403.3" width="3.2" height="29.4" fill="#5aa189"/>
<rect x="565" y="389.3" width="1" height="23.4" fill="#5aa189" opacity="0.88"/>
<rect x="563.91" y="394.3" width="3.2" height="10.6" fill="#5aa189"/>
<rect x="570" y="370.0" width="1" height="47.0" fill="#d4525b" opacity="0.88"/>
<rect x="568.57" y="393.9" width="3.2" height="22.5" fill="#d4525b"/>
<rect x="574" y="401.7" width="1" height="18.0" fill="#5aa189" opacity="0.88"/>
<rect x="573.23" y="405.8" width="3.2" height="9.8" fill="#5aa189"/>
<rect x="579" y="388.5" width="1" height="19.0" fill="#5aa189" opacity="0.88"/>
<rect x="577.88" y="396.7" width="3.2" height="10.4" fill="#5aa189"/>
<rect x="584" y="380.3" width="1" height="29.1" fill="#d4525b" opacity="0.88"/>
<rect x="582.54" y="396.7" width="3.2" height="5.0" fill="#d4525b"/>
<rect x="588" y="376.2" width="1" height="27.6" fill="#5aa189" opacity="0.88"/>
<rect x="587.20" y="388.5" width="3.2" height="13.2" fill="#5aa189"/>
<rect x="593" y="368.8" width="1" height="21.2" fill="#5aa189" opacity="0.88"/>
<rect x="591.86" y="369.7" width="3.2" height="20.0" fill="#5aa189"/>
<rect x="598" y="366.4" width="1" height="8.3" fill="#d4525b" opacity="0.88"/>
<rect x="596.52" y="369.3" width="3.2" height="1.7" fill="#d4525b"/>
<rect x="602" y="316.4" width="1" height="46.8" fill="#5aa189" opacity="0.88"/>
<rect x="601.18" y="330.8" width="3.2" height="32.0" fill="#5aa189"/>
<rect x="607" y="306.2" width="1" height="36.9" fill="#d4525b" opacity="0.88"/>
<rect x="605.84" y="330.5" width="3.2" height="1.6" fill="#d4525b"/>
<rect x="612" y="326.7" width="1" height="37.3" fill="#5aa189" opacity="0.88"/>
<rect x="610.50" y="327.9" width="3.2" height="2.1" fill="#5aa189"/>
<rect x="616" y="316.4" width="1" height="32.4" fill="#d4525b" opacity="0.88"/>
<rect x="615.16" y="329.2" width="3.2" height="18.9" fill="#d4525b"/>
<rect x="621" y="337.0" width="1" height="25.8" fill="#5aa189" opacity="0.88"/>
<rect x="619.82" y="337.4" width="3.2" height="9.9" fill="#5aa189"/>
<rect x="626" y="337.0" width="1" height="21.0" fill="#d4525b" opacity="0.88"/>
<rect x="624.48" y="337.4" width="3.2" height="15.3" fill="#d4525b"/>
<rect x="630" y="351.0" width="1" height="18.8" fill="#d4525b" opacity="0.88"/>
<rect x="629.13" y="351.3" width="3.2" height="13.2" fill="#d4525b"/>
<rect x="635" y="352.7" width="1" height="17.1" fill="#5aa189" opacity="0.88"/>
<rect x="633.79" y="358.4" width="3.2" height="6.1" fill="#5aa189"/>
<rect x="640" y="350.2" width="1" height="37.3" fill="#d4525b" opacity="0.88"/>
<rect x="638.45" y="358.0" width="3.2" height="27.3" fill="#d4525b"/>
<rect x="644" y="356.3" width="1" height="28.9" fill="#5aa189" opacity="0.88"/>
<rect x="643.11" y="356.7" width="3.2" height="28.2" fill="#5aa189"/>
<rect x="649" y="343.1" width="1" height="27.7" fill="#5aa189" opacity="0.88"/>
<rect x="647.77" y="351.3" width="3.2" height="7.0" fill="#5aa189"/>
<rect x="654" y="350.4" width="1" height="19.9" fill="#d4525b" opacity="0.88"/>
<rect x="652.43" y="350.9" width="3.2" height="19.0" fill="#d4525b"/>
<rect x="658" y="359.6" width="1" height="13.9" fill="#d4525b" opacity="0.88"/>
<rect x="657.09" y="368.3" width="3.2" height="1.6" fill="#d4525b"/>
<rect x="663" y="360.1" width="1" height="13.4" fill="#d4525b" opacity="0.88"/>
<rect x="661.75" y="369.4" width="3.2" height="1.6" fill="#d4525b"/>
<rect x="668" y="349.2" width="1" height="25.6" fill="#5aa189" opacity="0.88"/>
<rect x="666.41" y="355.1" width="3.2" height="17.6" fill="#5aa189"/>
<rect x="672" y="325.1" width="1" height="31.1" fill="#5aa189" opacity="0.88"/>
<rect x="671.06" y="330.8" width="3.2" height="25.0" fill="#5aa189"/>
<rect x="677" y="315.2" width="1" height="22.2" fill="#5aa189" opacity="0.88"/>
<rect x="675.72" y="325.1" width="3.2" height="6.6" fill="#5aa189"/>
<rect x="681" y="289.8" width="1" height="36.2" fill="#5aa189" opacity="0.88"/>
<rect x="680.38" y="292.2" width="3.2" height="33.4" fill="#5aa189"/>
<rect x="686" y="291.8" width="1" height="17.2" fill="#d4525b" opacity="0.88"/>
<rect x="685.04" y="292.2" width="3.2" height="16.5" fill="#d4525b"/>
<rect x="691" y="302.6" width="1" height="11.5" fill="#5aa189" opacity="0.88"/>
<rect x="689.70" y="305.4" width="3.2" height="1.6" fill="#5aa189"/>
<rect x="695" y="287.3" width="1" height="20.0" fill="#5aa189" opacity="0.88"/>
<rect x="694.36" y="293.4" width="3.2" height="13.6" fill="#5aa189"/>
<rect x="700" y="282.9" width="1" height="15.4" fill="#d4525b" opacity="0.88"/>
<rect x="699.02" y="293.4" width="3.2" height="4.6" fill="#d4525b"/>
<rect x="705" y="293.4" width="1" height="11.5" fill="#d4525b" opacity="0.88"/>
<rect x="703.68" y="296.3" width="3.2" height="5.0" fill="#d4525b"/>
<rect x="709" y="296.7" width="1" height="8.2" fill="#5aa189" opacity="0.88"/>
<rect x="708.34" y="298.8" width="3.2" height="1.7" fill="#5aa189"/>
<rect x="714" y="294.7" width="1" height="10.6" fill="#d4525b" opacity="0.88"/>
<rect x="713.00" y="298.8" width="3.2" height="6.1" fill="#d4525b"/>
<rect x="719" y="299.3" width="1" height="14.8" fill="#d4525b" opacity="0.88"/>
<rect x="717.65" y="303.2" width="3.2" height="7.6" fill="#d4525b"/>
<rect x="723" y="299.3" width="1" height="12.2" fill="#5aa189" opacity="0.88"/>
<rect x="722.31" y="309.2" width="3.2" height="1.9" fill="#5aa189"/>
<rect x="728" y="296.7" width="1" height="18.5" fill="#5aa189" opacity="0.88"/>
<rect x="726.97" y="309.2" width="3.2" height="1.6" fill="#5aa189"/>
<rect x="733" y="303.8" width="1" height="13.8" fill="#5aa189" opacity="0.88"/>
<rect x="731.63" y="304.1" width="3.2" height="7.2" fill="#5aa189"/>
<rect x="737" y="302.7" width="1" height="12.5" fill="#d4525b" opacity="0.88"/>
<rect x="736.29" y="303.5" width="3.2" height="8.0" fill="#d4525b"/>
<rect x="742" y="307.2" width="1" height="17.5" fill="#d4525b" opacity="0.88"/>
<rect x="740.95" y="309.3" width="3.2" height="6.1" fill="#d4525b"/>
<rect x="747" y="308.0" width="1" height="12.2" fill="#5aa189" opacity="0.88"/>
<rect x="745.61" y="313.0" width="3.2" height="2.6" fill="#5aa189"/>
<rect x="751" y="309.9" width="1" height="8.9" fill="#d4525b" opacity="0.88"/>
<rect x="750.27" y="312.7" width="3.2" height="1.6" fill="#d4525b"/>
<rect x="756" y="305.0" width="1" height="18.4" fill="#d4525b" opacity="0.88"/>
<rect x="754.93" y="313.9" width="3.2" height="1.6" fill="#d4525b"/>
<rect x="761" y="300.1" width="1" height="18.7" fill="#5aa189" opacity="0.88"/>
<rect x="759.59" y="305.0" width="3.2" height="11.5" fill="#5aa189"/>
<rect x="765" y="274.4" width="1" height="31.6" fill="#5aa189" opacity="0.88"/>
<rect x="764.25" y="275.4" width="3.2" height="30.2" fill="#5aa189"/>
<rect x="770" y="268.9" width="1" height="13.8" fill="#5aa189" opacity="0.88"/>
<rect x="768.90" y="270.8" width="3.2" height="6.3" fill="#5aa189"/>
<rect x="775" y="266.2" width="1" height="8.2" fill="#5aa189" opacity="0.88"/>
<rect x="773.56" y="267.9" width="3.2" height="3.8" fill="#5aa189"/>
<rect x="779" y="267.5" width="1" height="9.5" fill="#d4525b" opacity="0.88"/>
<rect x="778.22" y="267.9" width="3.2" height="8.2" fill="#d4525b"/>
<rect x="784" y="273.3" width="1" height="10.7" fill="#5aa189" opacity="0.88"/>
<rect x="782.88" y="274.4" width="3.2" height="1.7" fill="#5aa189"/>
<rect x="789" y="257.4" width="1" height="24.1" fill="#d4525b" opacity="0.88"/>
<rect x="787.54" y="274.9" width="3.2" height="3.3" fill="#d4525b"/>
<rect x="793" y="270.0" width="1" height="20.2" fill="#d4525b" opacity="0.88"/>
<rect x="792.20" y="276.6" width="3.2" height="13.1" fill="#d4525b"/>
<rect x="798" y="284.0" width="1" height="9.5" fill="#d4525b" opacity="0.88"/>
<rect x="796.86" y="288.6" width="3.2" height="1.6" fill="#d4525b"/>
<rect x="803" y="286.9" width="1" height="18.1" fill="#5aa189" opacity="0.88"/>
<rect x="801.52" y="288.1" width="3.2" height="1.6" fill="#5aa189"/>
<rect x="807" y="282.0" width="1" height="15.9" fill="#d4525b" opacity="0.88"/>
<rect x="806.18" y="288.6" width="3.2" height="7.2" fill="#d4525b"/>
<rect x="812" y="281.5" width="1" height="14.3" fill="#5aa189" opacity="0.88"/>
<rect x="810.84" y="283.6" width="3.2" height="11.9" fill="#5aa189"/>
<rect x="817" y="280.4" width="1" height="10.5" fill="#d4525b" opacity="0.88"/>
<rect x="815.49" y="282.7" width="3.2" height="6.2" fill="#d4525b"/>
<rect x="821" y="283.1" width="1" height="7.8" fill="#d4525b" opacity="0.88"/>
<rect x="820.15" y="286.4" width="3.2" height="3.8" fill="#d4525b"/>
<rect x="826" y="280.4" width="1" height="9.8" fill="#5aa189" opacity="0.88"/>
<rect x="824.81" y="285.9" width="3.2" height="3.8" fill="#5aa189"/>
<rect x="831" y="277.1" width="1" height="13.8" fill="#5aa189" opacity="0.88"/>
<rect x="829.47" y="281.5" width="3.2" height="5.4" fill="#5aa189"/>
<rect x="835" y="261.8" width="1" height="21.4" fill="#5aa189" opacity="0.88"/>
<rect x="834.13" y="262.9" width="3.2" height="19.8" fill="#5aa189"/>
<rect x="840" y="249.2" width="1" height="14.7" fill="#5aa189" opacity="0.88"/>
<rect x="838.79" y="253.1" width="3.2" height="10.3" fill="#5aa189"/>
<rect x="845" y="239.6" width="1" height="14.4" fill="#5aa189" opacity="0.88"/>
<rect x="843.45" y="242.6" width="3.2" height="11.0" fill="#5aa189"/>
<rect x="849" y="231.4" width="1" height="11.6" fill="#5aa189" opacity="0.88"/>
<rect x="848.11" y="237.7" width="3.2" height="4.9" fill="#5aa189"/>
<rect x="854" y="233.9" width="1" height="9.1" fill="#d4525b" opacity="0.88"/>
<rect x="852.77" y="237.7" width="3.2" height="4.9" fill="#d4525b"/>
</svg>
<div class="topline"></div>
<div id="paxis">
<span class="w" style="left:913.12px;top:-9.38px;font-size:14.4px;transform:scaleX(1.0760);color:#cccccc;-webkit-text-stroke:0.25px #cccccc;">159.000</span>
<span class="w" style="left:913.12px;top:33.05px;font-size:14.4px;transform:scaleX(1.0760);color:#cccccc;-webkit-text-stroke:0.25px #cccccc;">158.500</span>
<span class="w" style="left:913.12px;top:75.48px;font-size:14.4px;transform:scaleX(1.0760);color:#cccccc;-webkit-text-stroke:0.25px #cccccc;">158.000</span>
<span class="w" style="left:913.12px;top:117.91px;font-size:14.4px;transform:scaleX(1.0760);color:#cccccc;-webkit-text-stroke:0.25px #cccccc;">157.500</span>
<span class="w" style="left:913.12px;top:160.34px;font-size:14.4px;transform:scaleX(1.0760);color:#cccccc;-webkit-text-stroke:0.25px #cccccc;">157.000</span>
<span class="w" style="left:913.12px;top:202.77px;font-size:14.4px;transform:scaleX(1.0760);color:#cccccc;-webkit-text-stroke:0.25px #cccccc;">156.500</span>
<span class="w" style="left:913.12px;top:245.20px;font-size:14.4px;transform:scaleX(1.0760);color:#cccccc;-webkit-text-stroke:0.25px #cccccc;">156.000</span>
<span class="w" style="left:913.12px;top:287.63px;font-size:14.4px;transform:scaleX(1.0760);color:#cccccc;-webkit-text-stroke:0.25px #cccccc;">155.500</span>
<span class="w" style="left:913.12px;top:330.06px;font-size:14.4px;transform:scaleX(1.0760);color:#cccccc;-webkit-text-stroke:0.25px #cccccc;">155.000</span>
<span class="w" style="left:913.12px;top:372.49px;font-size:14.4px;transform:scaleX(1.0760);color:#cccccc;-webkit-text-stroke:0.25px #cccccc;">154.500</span>
<span class="w" style="left:913.12px;top:414.92px;font-size:14.4px;transform:scaleX(1.0760);color:#cccccc;-webkit-text-stroke:0.25px #cccccc;">154.000</span>
<span class="w" style="left:913.12px;top:457.35px;font-size:14.4px;transform:scaleX(1.0760);color:#cccccc;-webkit-text-stroke:0.25px #cccccc;">153.500</span>
<span class="w" style="left:913.12px;top:499.78px;font-size:14.4px;transform:scaleX(1.0760);color:#cccccc;-webkit-text-stroke:0.25px #cccccc;">153.000</span>
<span class="w" style="left:913.12px;top:542.21px;font-size:14.4px;transform:scaleX(1.0760);color:#cccccc;-webkit-text-stroke:0.25px #cccccc;">152.500</span>
<span class="w" style="left:913.12px;top:584.64px;font-size:14.4px;transform:scaleX(1.0760);color:#cccccc;-webkit-text-stroke:0.25px #cccccc;">152.000</span>
<span class="w" style="left:913.12px;top:627.07px;font-size:14.4px;transform:scaleX(1.0760);color:#cccccc;-webkit-text-stroke:0.25px #cccccc;">151.500</span>
</div>
<div class="tag"></div>
<svg style="position:absolute;left:931.8px;top:657.8px" width="22" height="20" viewBox="0 0 22 20"><polygon points="1.6,10 6.2,2 15.8,2 20.4,10 15.8,18 6.2,18" fill="none" stroke="#d0d0d0" stroke-width="1.4" stroke-linejoin="round"/><circle cx="11" cy="10" r="2.6" fill="none" stroke="#d0d0d0" stroke-width="1.4"/></svg>
<div class="sep"></div>
<svg style="position:absolute;left:6px;top:6px" width="32" height="32" viewBox="6 6 32 32">
<defs><clipPath id="us"><circle cx="17.5" cy="25.3" r="8.2"/></clipPath></defs>
<circle cx="26" cy="17.3" r="8.2" fill="#f6f6f6"/>
<circle cx="26.1" cy="16.9" r="3.7" fill="#dd4055"/>
<circle cx="17.5" cy="25.3" r="9.8" fill="#101010"/>
<g clip-path="url(#us)">
<rect x="9" y="17" width="18" height="18" fill="#f4f4f4"/>
<rect x="9" y="17" width="18" height="3.1" fill="#dc4a55"/>
<rect x="9" y="23.2" width="18" height="2.9" fill="#dc4a55"/>
<rect x="9" y="29.7" width="18" height="4.6" fill="#dc4a55"/>
<rect x="9" y="17" width="11" height="9.2" fill="#3f73e0"/>
<g fill="#e8efff"><circle cx="11.6" cy="19.4" r="0.75"/><circle cx="14.6" cy="19.4" r="0.75"/><circle cx="17.6" cy="19.4" r="0.75"/><circle cx="11.6" cy="22" r="0.75"/><circle cx="14.6" cy="22" r="0.75"/><circle cx="17.6" cy="22" r="0.75"/><circle cx="11.6" cy="24.6" r="0.75"/><circle cx="14.6" cy="24.6" r="0.75"/><circle cx="17.6" cy="24.6" r="0.75"/></g>
</g>
</svg>
<svg style="position:absolute;left:398px;top:6px" width="60" height="32" viewBox="398 6 60 32">
<defs><clipPath id="pl"><rect x="401" y="10" width="52.4" height="23" rx="11.5"/></clipPath></defs>
<g clip-path="url(#pl)"><rect x="400" y="9" width="26.7" height="25" fill="#1c342e"/><rect x="426.7" y="9" width="28" height="25" fill="#551230"/></g>
<circle cx="415.9" cy="20.6" r="5.7" fill="#4ab399"/>
<path d="M433 19.7 C434.8 16.6,437.3 17,439 18.3 S443.2 20,445.2 16.9 M433 24.7 C434.8 21.6,437.3 22,439 23.3 S443.2 25,445.2 21.9" fill="none" stroke="#d92a6c" stroke-width="1.6" stroke-linecap="round"/>
</svg>
<span class="w" style="left:38.07px;top:1.59px;font-size:20.6px;transform:scaleX(0.9667);color:#e2e2e2;-webkit-text-stroke:0.6px #e2e2e2;">U.S.</span>
<span class="w" style="left:83.31px;top:1.59px;font-size:20.6px;transform:scaleX(1.0471);color:#e2e2e2;-webkit-text-stroke:0.6px #e2e2e2;">Dollar</span>
<span class="w" style="left:148.20px;top:1.63px;font-size:22px;transform:scaleX(1.0000);color:#e2e2e2;-webkit-text-stroke:0.7px #e2e2e2;transform:skewX(-6deg);transform-origin:50% 50%;">/</span>
<span class="w" style="left:163.04px;top:1.59px;font-size:20.6px;transform:scaleX(0.9598);color:#e2e2e2;-webkit-text-stroke:0.6px #e2e2e2;">Japanese</span>
<span class="w" style="left:255.57px;top:1.59px;font-size:20.6px;transform:scaleX(0.9250);color:#e2e2e2;-webkit-text-stroke:0.6px #e2e2e2;">Yen</span>
<span class="w" style="left:289.80px;top:-0.40px;font-size:36px;transform:scaleX(0.8500);color:#e2e2e2;">·</span>
<span class="w" style="left:302.88px;top:1.59px;font-size:20.6px;transform:scaleX(1.0105);color:#e2e2e2;-webkit-text-stroke:0.6px #e2e2e2;">1h</span>
<span class="w" style="left:328.00px;top:-0.40px;font-size:36px;transform:scaleX(0.8500);color:#e2e2e2;">·</span>
<span class="w" style="left:341.28px;top:1.59px;font-size:20.6px;transform:scaleX(0.8611);color:#e2e2e2;-webkit-text-stroke:0.6px #e2e2e2;">FXCM</span>
<span class="w" style="left:7.48px;top:28.65px;font-size:16.5px;transform:scaleX(1.0182);color:#e4e4e4;-webkit-text-stroke:0.5px #e4e4e4;">O</span>
<span class="w" style="left:22.83px;top:28.65px;font-size:16.5px;transform:scaleX(0.9707);color:#c8414e;-webkit-text-stroke:0.35px #c8414e;">156.318</span>
<span class="w" style="left:87.17px;top:28.65px;font-size:16.5px;transform:scaleX(1.1625);color:#e4e4e4;-webkit-text-stroke:0.5px #e4e4e4;">H</span>
<span class="w" style="left:101.64px;top:28.65px;font-size:16.5px;transform:scaleX(0.9569);color:#c8414e;-webkit-text-stroke:0.35px #c8414e;">156.361</span>
<span class="w" style="left:167.20px;top:28.65px;font-size:16.5px;transform:scaleX(1.1000);color:#e4e4e4;-webkit-text-stroke:0.5px #e4e4e4;">L</span>
<span class="w" style="left:179.64px;top:28.65px;font-size:16.5px;transform:scaleX(0.9638);color:#c8414e;-webkit-text-stroke:0.35px #c8414e;">156.246</span>
<span class="w" style="left:245.78px;top:28.65px;font-size:16.5px;transform:scaleX(0.8200);color:#e4e4e4;-webkit-text-stroke:0.5px #e4e4e4;">C</span>
<span class="w" style="left:258.43px;top:28.65px;font-size:16.5px;transform:scaleX(0.9655);color:#c8414e;-webkit-text-stroke:0.35px #c8414e;">156.268</span>
<span class="w" style="left:324.70px;top:28.65px;font-size:16.5px;transform:scaleX(0.9980);color:#c8414e;-webkit-text-stroke:0.35px #c8414e;">−0.050</span>
<span class="w" style="left:381.36px;top:28.65px;font-size:16.5px;transform:scaleX(0.9394);color:#c8414e;-webkit-text-stroke:0.35px #c8414e;">(−0.03%)</span>
<span class="w" style="left:17.17px;top:692.15px;font-size:16.5px;transform:scaleX(1.0263);color:#e0e0e0;-webkit-text-stroke:0.3px #e0e0e0;">1D</span>
<span class="w" style="left:53.35px;top:692.15px;font-size:16.5px;transform:scaleX(1.0474);color:#e0e0e0;-webkit-text-stroke:0.3px #e0e0e0;">5D</span>
<span class="w" style="left:90.48px;top:692.15px;font-size:16.5px;transform:scaleX(1.0190);color:#e0e0e0;-webkit-text-stroke:0.3px #e0e0e0;">1M</span>
<span class="w" style="left:128.25px;top:692.15px;font-size:16.5px;transform:scaleX(1.0476);color:#e0e0e0;-webkit-text-stroke:0.3px #e0e0e0;">3M</span>
<span class="w" style="left:165.85px;top:692.15px;font-size:16.5px;transform:scaleX(1.0524);color:#e0e0e0;-webkit-text-stroke:0.3px #e0e0e0;">6M</span>
<span class="w" style="left:204.61px;top:692.15px;font-size:16.5px;transform:scaleX(0.9935);color:#e0e0e0;-webkit-text-stroke:0.3px #e0e0e0;">YTD</span>
<span class="w" style="left:253.36px;top:692.15px;font-size:16.5px;transform:scaleX(0.9444);color:#e0e0e0;-webkit-text-stroke:0.3px #e0e0e0;">1Y</span>
<span class="w" style="left:287.65px;top:692.15px;font-size:16.5px;transform:scaleX(1.0500);color:#e0e0e0;-webkit-text-stroke:0.3px #e0e0e0;">5Y</span>
<span class="w" style="left:323.60px;top:692.15px;font-size:16.5px;transform:scaleX(1.2647);color:#e0e0e0;-webkit-text-stroke:0.3px #e0e0e0;">All</span>
<span class="w" style="left:857.42px;top:692.15px;font-size:16.5px;transform:scaleX(1.0812);color:#e0e0e0;-webkit-text-stroke:0.3px #e0e0e0;">04:34:23 UTC</span>
<span class="w" style="left:913.15px;top:223.04px;font-size:14.4px;transform:scaleX(1.0549);color:#ffffff;font-weight:bold;">156.268</span>
<span class="w" style="left:34.51px;top:648.14px;font-size:14.4px;transform:scaleX(1.0357);color:#cccccc;-webkit-text-stroke:0.25px #cccccc;">25</span>
<span class="w" style="left:155.65px;top:648.14px;font-size:14.4px;transform:scaleX(1.0357);color:#cccccc;-webkit-text-stroke:0.25px #cccccc;">27</span>
<span class="w" style="left:267.46px;top:648.14px;font-size:14.4px;transform:scaleX(1.0357);color:#cccccc;-webkit-text-stroke:0.25px #cccccc;">28</span>
<span class="w" style="left:379.28px;top:648.14px;font-size:14.4px;transform:scaleX(1.0357);color:#cccccc;-webkit-text-stroke:0.25px #cccccc;">29</span>
<span class="w" style="left:491.10px;top:648.14px;font-size:14.4px;transform:scaleX(1.0357);color:#cccccc;-webkit-text-stroke:0.25px #cccccc;">30</span>
<span class="w" style="left:719.31px;top:648.14px;font-size:14.4px;transform:scaleX(1.0000);color:#cccccc;-webkit-text-stroke:0.25px #cccccc;">3</span>
<span class="w" style="left:831.13px;top:648.14px;font-size:14.4px;transform:scaleX(1.0000);color:#cccccc;-webkit-text-stroke:0.25px #cccccc;">4</span>
<span class="w" style="left:588.01px;top:648.14px;font-size:14.4px;transform:scaleX(1.0708);color:#d4d4d4;font-weight:bold;">Feb</span>
<span class="w" style="left:538.27px;top:484.73px;font-size:35px;transform:scaleX(0.8669);color:#e21e1e;-webkit-text-stroke:0.95px #e21e1e;">USD/JPY</span>
<span class="w" style="left:676.40px;top:484.73px;font-size:35px;transform:scaleX(1.0056);color:#e21e1e;-webkit-text-stroke:0.95px #e21e1e;">ticked</span>
<span class="w" style="left:776.47px;top:484.73px;font-size:35px;transform:scaleX(0.9674);color:#e21e1e;-webkit-text-stroke:0.95px #e21e1e;">higher</span>
</body></html>
